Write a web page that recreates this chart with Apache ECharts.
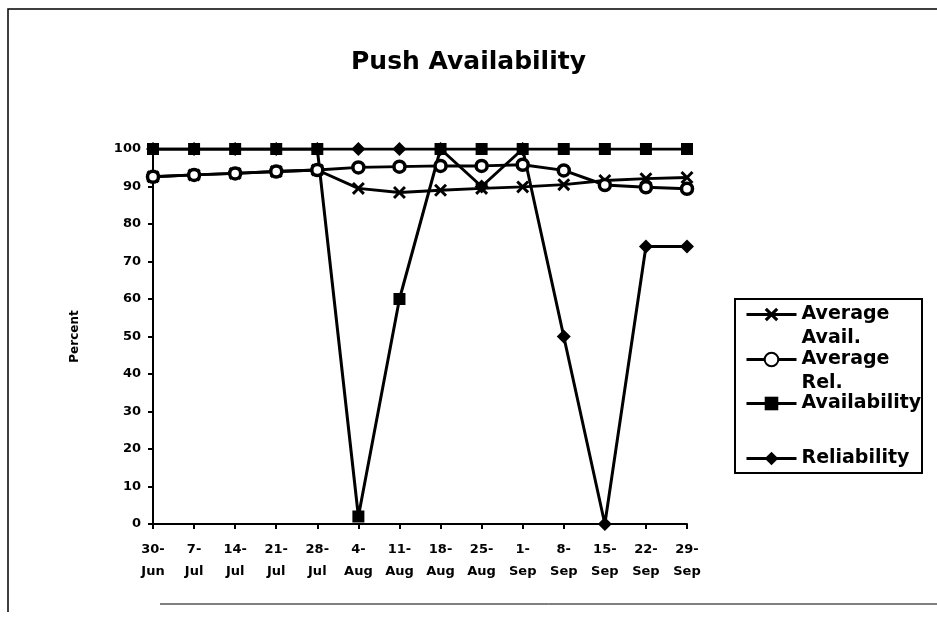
<!DOCTYPE html>
<html>
<head>
<meta charset="utf-8">
<script src="https://cdn.jsdelivr.net/npm/echarts@6/dist/echarts.min.js"></script>
<style>
  html, body { margin: 0; padding: 0; background: #fff; }
  #chart { width: 937px; height: 619px; }
</style>
</head>
<body>
<div id="chart"></div>
<script>
// Week-starting dates
const weeks = ['30-Jun', '7-Jul', '14-Jul', '21-Jul', '28-Jul', '4-Aug', '11-Aug',
               '18-Aug', '25-Aug', '1-Sep', '8-Sep', '15-Sep', '22-Sep', '29-Sep'];

// Percent values per week
const averageAvail = [92.6, 93.1, 93.5, 94.0, 94.4, 89.5, 88.4, 89.0, 89.5, 89.9, 90.5, 91.6, 92.1, 92.4];
const averageRel   = [92.6, 93.1, 93.5, 94.0, 94.4, 95.1, 95.3, 95.5, 95.5, 95.8, 94.3, 90.4, 89.8, 89.4];
const availability = [100, 100, 100, 100, 100, 2, 60, 100, 100, 100, 100, 100, 100, 100];
const reliability  = [100, 100, 100, 100, 100, 100, 100, 100, 90, 100, 50, 0, 74, 74];

const yTicks = [0, 10, 20, 30, 40, 50, 60, 70, 80, 90, 100];

const FONT = 'DejaVu Sans';
const crossPath = 'path://M0,1.6 L1.6,0 L5,3.4 L8.4,0 L10,1.6 L6.6,5 L10,8.4 L8.4,10 L5,6.6 L1.6,10 L0,8.4 L3.4,5 Z';

const chart = echarts.init(document.getElementById('chart'), null, { renderer: 'canvas' });

const lineCommon = {
  type: 'line',
  showSymbol: true,
  lineStyle: { color: '#000', width: 3 },
  emphasis: { disabled: true },
  animation: false
};

// One legend block per entry so each entry sits on its own row
const LH = 24;
function legendBlock(name, top) {
  const parts = name.split(' ');
  const multi = parts.length > 1;
  return {
    data: [name],
    left: 745,
    top: top,
    orient: 'vertical',
    padding: 0,
    itemWidth: 50,
    itemHeight: 17,
    itemGap: 0,
    selectedMode: false,
    lineStyle: { width: 3, color: '#000' },
    formatter: multi
      ? () => '{e| }\n{t|' + parts[0] + '}\n{t|' + parts.slice(1).join(' ') + '}'
      : () => '{t|' + name + '}',
    textStyle: {
      fontFamily: FONT,
      fontWeight: 'bold',
      fontSize: 19,
      color: '#000',
      rich: {
        e: { fontFamily: FONT, fontSize: 19, lineHeight: LH, fontWeight: 'bold' },
        t: { fontFamily: FONT, fontSize: 19, lineHeight: LH, fontWeight: 'bold', color: '#000' }
      }
    }
  };
}

const option = {
  backgroundColor: '#fff',
  animation: false,
  title: {
    text: 'Push Availability',
    left: 'center',
    top: 50,
    padding: 0,
    textStyle: { fontFamily: FONT, fontWeight: 'bold', fontSize: 25, color: '#000' }
  },
  grid: { left: 153, right: 250, top: 149, bottom: 95, containLabel: false },
  legend: [
    legendBlock('Average Avail.', 317 - 1.5 * LH),
    legendBlock('Average Rel.', 362 - 1.5 * LH),
    legendBlock('Availability', 406 - LH / 2),
    legendBlock('Reliability', 461 - LH / 2)
  ],
  xAxis: {
    type: 'category',
    data: weeks,
    boundaryGap: false,
    axisLine: { lineStyle: { color: '#000', width: 2 } },
    axisTick: { show: true, alignWithLabel: true, length: 5, lineStyle: { color: '#000', width: 2 } },
    axisLabel: {
      interval: 0,
      margin: 15,
      color: '#000',
      fontFamily: FONT,
      fontWeight: 'bold',
      fontSize: 13,
      lineHeight: 22,
      formatter: v => v.replace('-', '-\n')
    },
    splitLine: { show: false }
  },
  yAxis: {
    type: 'value',
    min: yTicks[0],
    max: yTicks[yTicks.length - 1],
    interval: 10,
    name: 'Percent',
    nameLocation: 'middle',
    nameRotate: 90,
    nameGap: 72,
    nameTextStyle: { fontFamily: FONT, fontWeight: 'bold', fontSize: 12, color: '#000' },
    axisLine: { show: true, lineStyle: { color: '#000', width: 2 } },
    axisTick: { show: true, length: 5, lineStyle: { color: '#000', width: 2 } },
    axisLabel: {
      margin: 12,
      color: '#000',
      fontFamily: FONT,
      fontWeight: 'bold',
      fontSize: 13
    },
    splitLine: { show: false }
  },
  series: [
    Object.assign({}, lineCommon, {
      name: 'Reliability',
      data: reliability,
      z: 2,
      symbol: 'diamond',
      symbolSize: 14,
      itemStyle: { color: '#000' }
    }),
    Object.assign({}, lineCommon, {
      name: 'Availability',
      data: availability,
      z: 3,
      symbol: 'rect',
      symbolSize: 12,
      itemStyle: { color: '#000' }
    }),
    Object.assign({}, lineCommon, {
      name: 'Average Avail.',
      data: averageAvail,
      z: 4,
      symbol: crossPath,
      symbolSize: 13,
      itemStyle: { color: '#000' }
    }),
    Object.assign({}, lineCommon, {
      name: 'Average Rel.',
      data: averageRel,
      z: 5,
      symbol: 'circle',
      symbolSize: 11,
      itemStyle: { color: '#fff', borderColor: '#000', borderWidth: 3.5 }
    })
  ],
  graphic: [
    // page frame
    { type: 'polyline', shape: { points: [[937, 9], [8, 9], [8, 612]] },
      style: { stroke: '#000', lineWidth: 1.5, fill: null }, silent: true },
    { type: 'line', shape: { x1: 160, y1: 604, x2: 937, y2: 604 },
      style: { stroke: '#000', lineWidth: 1 }, silent: true },
    // legend frame
    { type: 'rect', shape: { x: 735, y: 299, width: 187, height: 174 },
      style: { stroke: '#000', lineWidth: 2, fill: null }, silent: true, z: -1 }
  ]
};

chart.setOption(option);
</script>
</body>
</html>
